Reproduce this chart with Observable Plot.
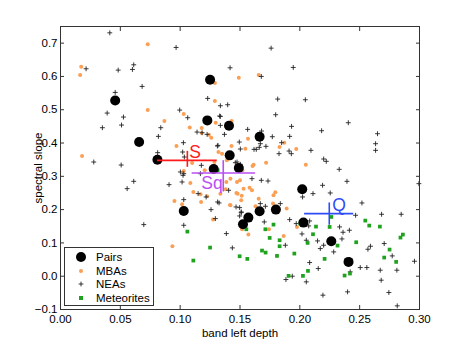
<!DOCTYPE html>
<html>
<head>
<meta charset="utf-8">
<script src="https://cdn.jsdelivr.net/npm/d3@7"></script>
<script src="https://cdn.jsdelivr.net/npm/@observablehq/plot@0.6"></script>
<style>
  body { margin: 0; background: #fff; }
  #wrap { position: relative; width: 463px; height: 348px; font-family: "Liberation Sans", Arial, Helvetica, sans-serif; }
  #legend { position: absolute; left: 64px; top: 247px; width: 88px; height: 57px; border: 1px solid #333; background: #fff; font-size: 11.5px; color: #000; }
  #legend .row { position: absolute; left: 0; height: 14px; line-height: 14px; }
  #legend svg { position: absolute; left: 9px; top: 0; }
  #legend span { position: absolute; left: 31px; top: 0; white-space: nowrap; }
</style>
</head>
<body>
<div id="wrap"></div>
<script>
// ---- data ----
const xTicks = [0, 0.05, 0.1, 0.15, 0.2, 0.25, 0.3];
const yTicks = [-0.1, 0, 0.1, 0.2, 0.3, 0.4, 0.5, 0.6, 0.7];

const pairs = [
  [0.0457,0.528],[0.0657,0.403],[0.081,0.35],[0.125,0.59],[0.1227,0.468],[0.1408,0.452],
  [0.1414,0.363],[0.128,0.322],[0.149,0.325],[0.1664,0.419],[0.103,0.196],[0.157,0.176],
  [0.1525,0.156],[0.1664,0.195],[0.18,0.2],[0.202,0.261],[0.203,0.161],[0.2263,0.105],[0.2407,0.043]
];

const mbas = [
  [0.0173,0.629],[0.0164,0.604],[0.0729,0.697],[0.0729,0.499],[0.0868,0.466],[0.103,0.487],
  [0.0969,0.391],[0.108,0.447],[0.118,0.445],[0.126,0.416],[0.1297,0.461],[0.129,0.526],
  [0.129,0.58],[0.149,0.596],[0.143,0.466],[0.1429,0.391],[0.132,0.373],[0.135,0.368],
  [0.018,0.361],[0.11,0.34],[0.1656,0.604],[0.1567,0.413],[0.1545,0.383],[0.183,0.388],
  [0.187,0.401],[0.197,0.382],[0.1614,0.335],[0.1605,0.331],[0.1718,0.341],[0.205,0.335],
  [0.139,0.348],[0.1417,0.214],[0.147,0.25],[0.1514,0.242],[0.16,0.258],[0.158,0.266],
  [0.178,0.243],[0.1795,0.252],[0.1776,0.218],[0.189,0.203],[0.1742,0.141],[0.1865,0.121],
  [0.1976,0.148],[0.157,0.125],[0.1517,0.141],[0.118,0.43],[0.124,0.425],[0.153,0.263],
  [0.150,0.288],[0.1475,0.283],[0.142,0.293],[0.1386,0.283],[0.152,0.318],[0.1205,0.318],
  [0.1085,0.28],[0.111,0.253],[0.117,0.246],[0.1225,0.24],[0.1336,0.248],[0.138,0.261],
  [0.148,0.248],[0.151,0.228],[0.1175,0.223],[0.0952,0.226],[0.1016,0.216],[0.142,0.213],
  [0.1656,0.233],[0.0935,0.09],[0.1275,0.17],[0.103,0.316],[0.1286,0.343],[0.163,0.21]
];

const neas = [
  [0.0412,0.731],[0.0214,0.623],[0.0482,0.619],[0.0612,0.635],[0.0601,0.621],[0.0682,0.57],
  [0.0457,0.552],[0.039,0.49],[0.0526,0.478],[0.051,0.454],[0.035,0.446],[0.0966,0.687],
  [0.0996,0.499],[0.1063,0.476],[0.0838,0.446],[0.0818,0.42],[0.1027,0.401],[0.1141,0.433],
  [0.1183,0.431],[0.1225,0.426],[0.1336,0.453],[0.123,0.534],[0.1336,0.512],[0.1397,0.515],
  [0.1417,0.626],[0.137,0.426],[0.1494,0.403],[0.1311,0.391],[0.1021,0.373],[0.1035,0.358],
  [0.0278,0.343],[0.0507,0.334],[0.0812,0.371],
  [0.176,0.685],[0.1945,0.627],[0.1678,0.6],[0.1815,0.532],[0.2046,0.53],[0.1798,0.485],
  [0.1336,0.48],[0.2405,0.461],[0.1931,0.45],[0.1564,0.441],[0.168,0.436],[0.2182,0.437],
  [0.2649,0.428],[0.177,0.419],[0.1915,0.42],[0.167,0.398],[0.1848,0.401],[0.2633,0.398],
  [0.1717,0.39],[0.1661,0.387],[0.1617,0.381],[0.2093,0.378],[0.2633,0.378],[0.191,0.376],
  [0.1929,0.368],[0.1826,0.368],[0.2199,0.352],[0.2221,0.345],[0.2329,0.321],[0.1461,0.341],
  [0.2995,0.278],[0.2394,0.285],[0.219,0.273],[0.211,0.248],[0.2519,0.22],[0.2683,0.186],
  [0.2847,0.186],[0.2466,0.183],[0.1915,0.17],[0.197,0.158],[0.1386,0.128],[0.1436,0.085],
  [0.2082,0.041],[0.2154,0.023],[0.2569,0.081],[0.259,0.09],[0.2505,0.026],[0.256,0.026],
  [0.2672,0.018],[0.2811,0.018],[0.2958,0.045],[0.268,-0.012],[0.2744,-0.049],[0.2399,-0.047],
  [0.2193,-0.057],[0.2814,-0.089],[0.1884,-0.01],[0.2054,-0.017],[0.167,0.218],[0.1837,0.218],
  [0.1511,0.193],[0.2254,0.25],[0.2023,0.238],[0.1712,0.21],[0.2082,0.166],[0.2074,0.151],
  [0.2332,0.148],[0.2414,0.138],[0.2361,0.132],[0.2018,0.127],[0.2054,0.108],[0.2148,0.106],
  [0.2199,0.093],[0.2171,0.083],[0.2283,0.073],[0.2352,0.112],[0.2705,0.098],[0.2772,0.061],
  [0.2421,0.013],[0.2415,0.05],[0.1937,0.0],[0.1703,0.163],[0.1879,0.093],
  [0.0696,0.155],[0.103,0.153],[0.1313,0.223],[0.1258,0.2],[0.1294,0.173],[0.1497,0.206],
  [0.151,0.191],[0.1497,0.181],[0.0612,0.285],[0.0557,0.263],[0.0907,0.275],[0.103,0.308],
  [0.1016,0.283],[0.103,0.23],[0.1169,0.308],[0.1177,0.333],[0.115,0.248],[0.1217,0.238],
  [0.133,0.481],[0.1316,0.393],[0.1503,0.382],[0.1636,0.381],[0.1475,0.343],[0.1503,0.336],
  [0.1002,0.313],[0.1024,0.303],[0.1405,0.258],[0.1325,0.22],[0.16,0.293],[0.1678,0.288],
  [0.1734,0.286],[0.1467,0.208]
];

const meteorites = [
  [0.106,0.134],[0.125,0.086],[0.111,0.047],[0.1497,0.06],[0.1313,0.318],[0.1561,0.052],
  [0.1553,0.141],[0.1712,0.141],[0.1748,0.115],[0.1684,0.077],[0.1714,0.071],[0.178,0.155],
  [0.1831,0.108],[0.1831,0.09],[0.1809,0.061],[0.1954,0.068],[0.2004,0.158],[0.2135,0.149],
  [0.211,0.126],[0.2065,0.1],[0.1906,0.001],[0.2026,0.001],[0.2068,0.016],[0.2207,0.052],
  [0.2263,0.178],[0.2249,0.148],[0.2315,0.092],[0.2471,0.102],[0.2547,0.167],[0.258,0.152],
  [0.2669,0.149],[0.275,0.08],[0.2705,0.056],[0.2805,0.043],[0.2841,0.116],[0.2861,0.125],
  [0.2374,0.002],[0.2419,0.008]
];

// class means with spread: center, x range, y range
const classNames = ["S", "Sq", "Q"];
const classCenterX = [0.106, 0.136, 0.2246];
const classCenterY = [0.348, 0.31, 0.188];
const classX1 = [0.081, 0.11, 0.204];
const classX2 = [0.131, 0.163, 0.245];
const classY1 = [0.327, 0.253, 0.153];
const classY2 = [0.375, 0.347, 0.22];
const classColors = ["#ff1a1a", "#b94ff2", "#2f4df7"];

const classes = classNames.map((name, i) => ({
  name, x: classCenterX[i], y: classCenterY[i],
  x1: classX1[i], x2: classX2[i], y1: classY1[i], y2: classY2[i], color: classColors[i]
}));

const colPairs = "#000000", colMBA = "#fb9f55", colNEA = "#222222", colMet = "#1fa31f";

// ---- chart ----
const labelDx = {S: 2, Sq: -22, Q: 3};
const labelDy = {S: -8, Sq: 10, Q: -8};

const chart = Plot.plot({
  width: 463, height: 348,
  marginLeft: 60, marginRight: 44, marginTop: 26, marginBottom: 39,
  style: {fontFamily: "'Liberation Sans', Arial, Helvetica, sans-serif", fontSize: "11px", background: "#fff", color: "#000", overflow: "visible"},
  x: {domain: [0, 0.3]},
  y: {domain: [-0.1, 0.75]},
  marks: [
    Plot.dot(mbas, {x: d => d[0], y: d => d[1], r: 2, fill: colMBA, stroke: "none"}),
    Plot.dot(neas, {x: d => d[0], y: d => d[1], r: 1.7, symbol: "plus", stroke: colNEA, strokeWidth: 0.9, fill: "none"}),
    Plot.dot(meteorites, {x: d => d[0], y: d => d[1], r: 2.1, symbol: "square", fill: colMet, stroke: "none"}),
    Plot.dot(pairs, {x: d => d[0], y: d => d[1], r: 5, fill: colPairs, stroke: "none"}),
    Plot.ruleY(classes, {y: "y", x1: "x1", x2: "x2", stroke: "color", strokeWidth: 1.6}),
    Plot.ruleX(classes, {x: "x", y1: "y1", y2: "y2", stroke: "color", strokeWidth: 1.6}),
    ...classes.map(c => Plot.text([c], {x: "x", y: "y", text: "name", fill: "color", fontSize: 17.5, textAnchor: "start", dx: labelDx[c.name], dy: labelDy[c.name]})),
    Plot.frame({stroke: "#333", strokeWidth: 1}),
    Plot.axisX(xTicks, {anchor: "bottom", tickSize: 0, tickPadding: 5, label: "band left depth", labelAnchor: "center", labelArrow: "none", labelOffset: 27, fontSize: 11.5}),
    Plot.axisX(xTicks, {anchor: "bottom", tickSize: -4, text: null, label: null, stroke: "#333"}),
    Plot.axisX(xTicks, {anchor: "top", tickSize: -4, text: null, label: null, stroke: "#333"}),
    Plot.axisY(yTicks, {anchor: "left", tickSize: 0, tickPadding: 3, label: "spectral slope", labelAnchor: "center", labelArrow: "none", labelOffset: 27, fontSize: 11.5}),
    Plot.axisY(yTicks, {anchor: "left", tickSize: -4, text: null, label: null, stroke: "#333"}),
    Plot.axisY(yTicks, {anchor: "right", tickSize: -4, text: null, label: null, stroke: "#333"})
  ]
});

const wrap = document.getElementById("wrap");
wrap.appendChild(chart);

// legend (overlay inside plot area)
const legendItems = [
  {label: "Pairs", kind: "pairs"},
  {label: "MBAs", kind: "mba"},
  {label: "NEAs", kind: "nea"},
  {label: "Meteorites", kind: "met"}
];
const legend = document.createElement("div");
legend.id = "legend";
legendItems.forEach((it, i) => {
  const row = document.createElement("div");
  row.className = "row";
  row.style.top = (2 + i * 13.5) + "px";
  let glyph = "";
  if (it.kind === "pairs") glyph = `<circle cx="7" cy="7" r="5" fill="${colPairs}"/>`;
  if (it.kind === "mba") glyph = `<circle cx="7" cy="7" r="2" fill="${colMBA}"/>`;
  if (it.kind === "nea") glyph = `<path d="M4.6 7H9.4M7 4.6V9.4" stroke="${colNEA}" stroke-width="0.9"/>`;
  if (it.kind === "met") glyph = `<rect x="5" y="5" width="4" height="4" fill="${colMet}"/>`;
  row.innerHTML = `<svg width="14" height="14">${glyph}</svg><span>${it.label}</span>`;
  legend.appendChild(row);
});
wrap.appendChild(legend);
</script>
</body>
</html>
